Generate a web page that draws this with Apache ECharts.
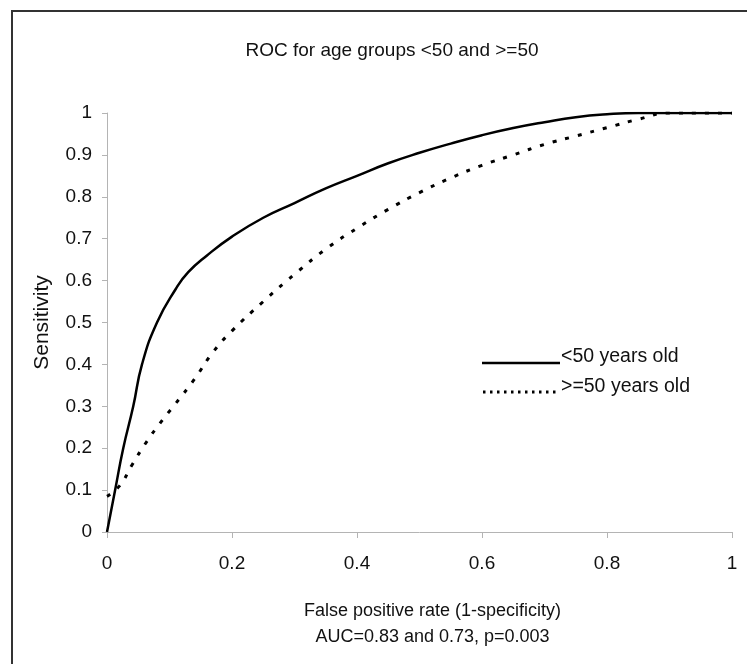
<!DOCTYPE html>
<html>
<head>
<meta charset="utf-8">
<script src="https://cdn.jsdelivr.net/npm/echarts@6/dist/echarts.min.js"></script>
<style>
  html, body { margin: 0; padding: 0; background: #fff; }
  #chart { width: 747px; height: 664px; }
</style>
</head>
<body>
<div id="chart"></div>
<script>
// ROC curve points: [false positive rate, sensitivity]
const under50 = [
  [0, 0], [0.013, 0.1], [0.026, 0.2], [0.042, 0.3], [0.056, 0.4], [0.08, 0.5],
  [0.11, 0.58], [0.13, 0.62], [0.16, 0.66], [0.2, 0.705], [0.25, 0.75], [0.3, 0.785],
  [0.35, 0.82], [0.4, 0.85], [0.45, 0.88], [0.5, 0.905], [0.55, 0.927], [0.6, 0.947],
  [0.65, 0.964], [0.7, 0.978], [0.75, 0.99], [0.8, 0.997], [0.85, 1], [1, 1]
];
const over50 = [
  [0, 0.085], [0.02, 0.11], [0.04, 0.16], [0.061, 0.21], [0.085, 0.26], [0.109, 0.305],
  [0.14, 0.365], [0.17, 0.43], [0.2, 0.48], [0.25, 0.55], [0.3, 0.615], [0.35, 0.675],
  [0.4, 0.725], [0.45, 0.77], [0.5, 0.81], [0.55, 0.845], [0.6, 0.875], [0.65, 0.9],
  [0.7, 0.925], [0.75, 0.945], [0.8, 0.965], [0.85, 0.985], [0.9, 1], [1, 1]
];
const seriesNames = ['<50 years old', '>=50 years old'];
const titleText = 'ROC for age groups <50 and >=50';
const xName = 'False positive rate (1-specificity)\nAUC=0.83 and 0.73, p=0.003';
const yName = 'Sensitivity';

const font = "'Liberation Sans', Arial, sans-serif";
const axisGray = '#b4b4b4';

const chart = echarts.init(document.getElementById('chart'));

const option = {
  backgroundColor: '#fff',
  animation: false,
  title: {
    text: titleText,
    left: 387,
    top: 36,
    textAlign: 'center',
    textStyle: { fontFamily: font, fontSize: 19, fontWeight: 'normal', color: '#111' }
  },
  grid: { left: 107, right: 15, top: 113, bottom: 132 },
  xAxis: {
    type: 'value',
    min: 0,
    max: 1,
    interval: 0.2,
    name: xName,
    nameLocation: 'middle',
    nameGap: 66,
    nameTextStyle: { fontFamily: font, fontSize: 18, color: '#111', lineHeight: 26, padding: [0, 0, 0, 26] },
    axisLine: { lineStyle: { color: axisGray, width: 1 } },
    axisTick: { show: true, length: 6, lineStyle: { color: axisGray } },
    axisLabel: { fontFamily: font, fontSize: 19, color: '#111', margin: 22 },
    splitLine: { show: false }
  },
  yAxis: {
    type: 'value',
    min: 0,
    max: 1,
    interval: 0.1,
    name: yName,
    nameLocation: 'middle',
    nameGap: 54,
    nameTextStyle: { fontFamily: font, fontSize: 21, color: '#111' },
    axisLine: { show: true, lineStyle: { color: axisGray, width: 1 } },
    axisTick: { show: true, length: 5, lineStyle: { color: axisGray } },
    axisLabel: {
      fontFamily: font, fontSize: 19, color: '#111', margin: 15,
      formatter: v => String(Math.round(v * 10) / 10)
    },
    splitLine: { show: false }
  },
  series: [
    {
      name: seriesNames[0],
      type: 'line',
      data: under50,
      smooth: 0.5,
      showSymbol: false,
      lineStyle: { color: '#000', width: 2.5, type: 'solid' }
    },
    {
      name: seriesNames[1],
      type: 'line',
      data: over50,
      smooth: 0.5,
      showSymbol: false,
      lineStyle: { color: '#000', width: 3, type: [4, 9] }
    }
  ],
  graphic: [
    // outer frame (cropped at right and bottom in the original)
    {
      type: 'rect',
      shape: { x: 12, y: 11, width: 800, height: 700 },
      style: { fill: null, stroke: '#333', lineWidth: 2 },
      silent: true
    },
    // legend
    {
      type: 'line',
      shape: { x1: 482, y1: 363, x2: 560, y2: 363 },
      style: { stroke: '#000', lineWidth: 2.5 }
    },
    {
      type: 'text',
      x: 561, y: 357,
      style: { text: seriesNames[0], fontFamily: font, fontSize: 19.5, fill: '#111', verticalAlign: 'middle' }
    },
    {
      type: 'line',
      shape: { x1: 483, y1: 392, x2: 560, y2: 392 },
      style: { stroke: '#000', lineWidth: 3, lineDash: [2.5, 4.5] }
    },
    {
      type: 'text',
      x: 561, y: 387,
      style: { text: seriesNames[1], fontFamily: font, fontSize: 19.5, fill: '#111', verticalAlign: 'middle' }
    }
  ]
};

chart.setOption(option);
</script>
</body>
</html>
